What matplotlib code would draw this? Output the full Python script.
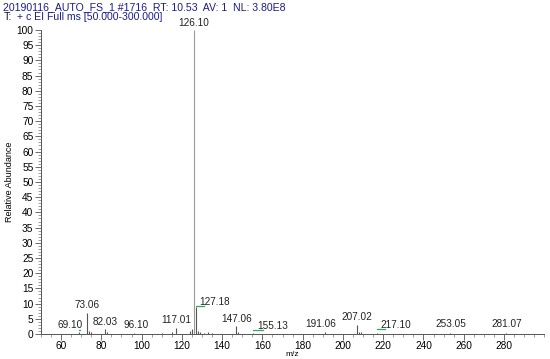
import numpy as np
import matplotlib
matplotlib.use("Agg")
import matplotlib.pyplot as plt
from matplotlib.ticker import MultipleLocator

plt.rcParams['font.family'] = ['Liberation Sans', 'DejaVu Sans']

# peak list (m/z, relative abundance)
mz = [69.10, 73.06, 74.05, 75.0, 82.03, 83.0, 96.10, 110.0, 115.0, 117.01,
      124.0, 125.0, 126.10, 127.18, 128.1, 129.0, 131.0, 133.0, 135.0,
      147.06, 148.0, 155.13, 191.06, 207.02, 208.0, 209.0, 217.10,
      253.05, 281.07]
abund = [0.6, 7.0, 1.0, 0.5, 1.6, 0.5, 0.4, 0.4, 0.6, 2.0,
         1.0, 1.8, 100.0, 9.0, 1.0, 0.6, 0.4, 0.6, 0.3,
         2.6, 0.5, 0.4, 0.5, 3.0, 0.8, 0.6, 0.4,
         0.2, 0.2]
labelled = [69.10, 73.06, 82.03, 96.10, 117.01, 126.10, 127.18, 147.06,
            155.13, 191.06, 207.02, 217.10, 253.05, 281.07]

header1 = "20190116_AUTO_FS_1 #1716  RT: 10.53  AV: 1  NL: 3.80E8"
header2 = "+ c EI Full ms [50.000-300.000]"

# label placement tweaks (x shift in m/z units, y lift in %)
shift = {69.10: (-4.7, 0.6), 127.18: (9.0, 0.0), 155.13: (10.0, 0.6),
         217.10: (9.0, 1.0), 191.06: (-2.0, 1.2), 96.10: (1.0, 1.0),
         253.05: (0.8, 1.3), 281.07: (0.5, 1.3)}

fig = plt.figure(figsize=(5.5, 3.59), dpi=100)
ax = fig.add_axes([0.0745, 0.0696, 0.915, 0.847])

for m, a in zip(mz, abund):
    col = '#9a9a9a' if a > 50 else '#555555'
    ax.vlines(m, 0, a, color=col, lw=0.8)

for m in labelled:
    a = abund[mz.index(m)]
    dx, dy = shift.get(m, (0.0, 0.8))
    tx, ty = m + dx, a + dy
    ax.text(tx, ty, f"{m:.2f}", ha='center', va='bottom', fontsize=7.2,
            color='#222222')
    if m in shift and abs(dx) > 3:
        # green leader line, horizontal under the label
        ax.plot([m, tx - np.sign(dx) * 5], [ty + 0.2, ty + 0.2],
                color='#2eaa5a', lw=0.9)

ax.set_xlim(50, 300)
ax.set_ylim(0, 100)
ax.spines['top'].set_visible(False)
ax.spines['right'].set_visible(False)
for s in ('left', 'bottom'):
    ax.spines[s].set_color('#555555')
    ax.spines[s].set_linewidth(0.7)

ax.xaxis.set_major_locator(MultipleLocator(20))
ax.xaxis.set_minor_locator(MultipleLocator(5))
ax.yaxis.set_major_locator(MultipleLocator(5))
ax.yaxis.set_minor_locator(MultipleLocator(1))
ax.set_xticks(np.arange(60, 300, 20))
ax.tick_params(which='major', length=4, width=0.6, color='#555555',
               labelsize=7.3, pad=1.5)
ax.tick_params(axis='x', which='major', pad=1)
ax.tick_params(which='minor', length=2, width=0.5, color='#777777')

ax.set_xlabel("m/z", fontsize=6, labelpad=0)
ax.set_ylabel("Relative Abundance", fontsize=6.5, labelpad=2)

fig.text(0.006, 0.981, header1, fontsize=7.6, color='#1c1c8a', va='center')
fig.text(0.006, 0.953, "T:", fontsize=7.6, color='#111111', va='center')
fig.text(0.031, 0.953, header2, fontsize=7.6, color='#1c1c8a', va='center')

fig.savefig("out.png", dpi=100)
